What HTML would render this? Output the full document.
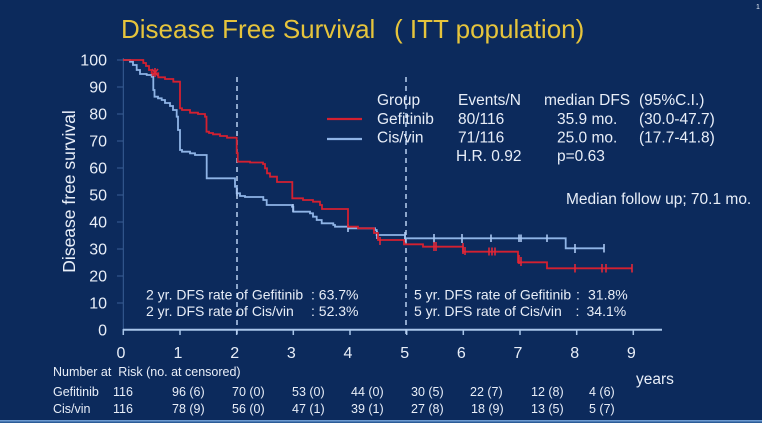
<!DOCTYPE html>
<html>
<head>
<meta charset="utf-8">
<style>
html,body{margin:0;padding:0;background:#0c2a5c;}
svg{display:block;}
text{font-family:"Liberation Sans",Arial,sans-serif;white-space:pre;}
</style>
</head>
<body>
<svg width="762" height="423" viewBox="0 0 762 423" xmlns="http://www.w3.org/2000/svg" xml:space="preserve">
<rect x="0" y="0" width="762" height="423" fill="#0c2a5c"/>
<rect x="0" y="420" width="762" height="1.5" fill="#6d9ad0"/>
<rect x="0" y="421.5" width="762" height="1.5" fill="#2c5c98"/>

<!-- page number -->
<text x="756" y="9" font-size="7" fill="#e8eef8">1</text>

<!-- title -->
<text x="121" y="38" font-size="26" fill="#e6c43c">Disease Free Survival</text>
<text x="394" y="38" font-size="26" fill="#e6c43c">( ITT population)</text>

<!-- y axis -->
<line x1="123.3" y1="58" x2="123.3" y2="330" stroke="#3a5f96" stroke-width="1"/>
<g stroke="#3a5f96" stroke-width="1">
<line x1="117" y1="60" x2="123" y2="60"/>
<line x1="117" y1="87" x2="123" y2="87"/>
<line x1="117" y1="114" x2="123" y2="114"/>
<line x1="117" y1="141" x2="123" y2="141"/>
<line x1="117" y1="168" x2="123" y2="168"/>
<line x1="117" y1="195" x2="123" y2="195"/>
<line x1="117" y1="222" x2="123" y2="222"/>
<line x1="117" y1="249" x2="123" y2="249"/>
<line x1="117" y1="276" x2="123" y2="276"/>
<line x1="117" y1="303" x2="123" y2="303"/>
</g>
<g font-size="16" fill="#e8eef8" text-anchor="end">
<text x="107" y="65.7">100</text>
<text x="107" y="92.7">90</text>
<text x="107" y="119.6">80</text>
<text x="107" y="146.6">70</text>
<text x="107" y="173.6">60</text>
<text x="107" y="200.5">50</text>
<text x="107" y="227.5">40</text>
<text x="107" y="254.5">30</text>
<text x="107" y="281.5">20</text>
<text x="107" y="308.4">10</text>
<text x="107" y="335.4">0</text>
</g>
<text transform="translate(75,191.5) rotate(-90)" font-size="17.5" fill="#e8eef8" text-anchor="middle">Disease free survival</text>

<!-- x axis -->
<line x1="123" y1="329.7" x2="662" y2="329.7" stroke="#a9c6ea" stroke-width="2"/>
<g stroke="#a9c6ea" stroke-width="1.5">
<line x1="123.3" y1="329" x2="123.3" y2="335"/>
<line x1="180" y1="329" x2="180" y2="335"/>
<line x1="236.7" y1="329" x2="236.7" y2="335"/>
<line x1="293.3" y1="329" x2="293.3" y2="335"/>
<line x1="350" y1="329" x2="350" y2="335"/>
<line x1="406.7" y1="329" x2="406.7" y2="335"/>
<line x1="463.3" y1="329" x2="463.3" y2="335"/>
<line x1="520" y1="329" x2="520" y2="335"/>
<line x1="576.7" y1="329" x2="576.7" y2="335"/>
<line x1="633.3" y1="329" x2="633.3" y2="335"/>
</g>
<g font-size="16" fill="#e8eef8" text-anchor="middle">
<text x="121" y="358">0</text>
<text x="178" y="358">1</text>
<text x="234.7" y="358">2</text>
<text x="291.3" y="358">3</text>
<text x="348" y="358">4</text>
<text x="404.7" y="358">5</text>
<text x="461.3" y="358">6</text>
<text x="518" y="358">7</text>
<text x="574.7" y="358">8</text>
<text x="631.3" y="358">9</text>
</g>
<text x="636" y="384" font-size="15.5" fill="#e8eef8">years</text>

<!-- dashed verticals -->
<line x1="237" y1="77" x2="237" y2="334" stroke="#b8cff0" stroke-width="1.5" stroke-dasharray="5,4"/>
<line x1="406" y1="77" x2="406" y2="334" stroke="#b8cff0" stroke-width="1.5" stroke-dasharray="5,4"/>

<!-- blue curve (Cis/vin) -->
<path d="M123,60 H130 V61.7 H133 V65 H136.7 V70 H140 V74 H146.7 V75 H151.7 V76.7 H153.3 V90 H154.5 V96.7 H158 V98.3 H161.7 V100 H165 V103 H170 V106 H173 V110 H176.7 V116.7 H178 V130 H180 V150 H182 V151.7 H190 V153.3 H195 V155 H206.7 V178.3 H235 V186.7 H236.7 V193.3 H240 V196 H245 V197 H263.3 V200 H266.7 V205 H292 V206.7 H293.3 V211.7 H310 V213.3 H313 V216.7 H316.7 V220 H321.7 V223.3 H333.3 V225 H335 V226.7 H348.3 V228.3 H375 V230 H376.7 V235 H405 V238.3 H565.7 V248.3 H604" fill="none" stroke="#8fb4e6" stroke-width="1.8"/>
<g stroke="#a9c6f0" stroke-width="1.6">
<line x1="237" y1="188" x2="237" y2="196"/>
<line x1="293" y1="204" x2="293" y2="212"/>
<line x1="348" y1="224" x2="348" y2="232"/>
<line x1="377" y1="231" x2="377" y2="239"/>
<line x1="405" y1="232" x2="405" y2="242"/>
<line x1="434" y1="234" x2="434" y2="243"/>
<line x1="462" y1="234" x2="462" y2="243"/>
<line x1="491" y1="234.5" x2="491" y2="242"/>
<line x1="519" y1="234.5" x2="519" y2="242"/>
<line x1="521" y1="234.5" x2="521" y2="242"/>
<line x1="547" y1="234.5" x2="547" y2="242"/>
<line x1="575" y1="244" x2="575" y2="253"/>
<line x1="604" y1="244" x2="604" y2="252.5"/>
</g>

<!-- red curve (Gefitinib) -->
<path d="M123,60 H143.3 V63 H146 V66 H149 V70 H151.7 V73.3 H158.3 V77.3 H165 V79 H173.3 V81.7 H180 V108.3 H182 V110 H190 V112.7 H198 V114 H205 V116.7 H206.5 V131.7 H209 V133 H213 V134.3 H220 V136 H227 V137.7 H236.7 V153 H237.7 V161.7 H250 V162.5 H263 V164 H265 V168.3 H267 V173.3 H270 V176.7 H277 V182 H292.3 V198.3 H303 V200 H313 V201.7 H320 V205 H322 V209 H348 V226.7 H358 V228.3 H374 V233 H378 V240 H404 V244.3 H423 V246.7 H463 V251.7 H518 V262.3 H547 V268.3 H632" fill="none" stroke="#d42030" stroke-width="1.8"/>
<g stroke="#e0283a" stroke-width="1.6">
<line x1="152" y1="69" x2="158" y2="76"/>
<line x1="158" y1="69" x2="152" y2="76"/>
<line x1="155" y1="68" x2="155" y2="77"/>
<line x1="380" y1="237" x2="380" y2="245"/>
<line x1="434" y1="242" x2="434" y2="251"/>
<line x1="436" y1="242" x2="436" y2="251"/>
<line x1="463" y1="243" x2="463" y2="254"/>
<line x1="465" y1="247" x2="465" y2="255"/>
<line x1="489" y1="247.5" x2="489" y2="255.5"/>
<line x1="492" y1="247.5" x2="492" y2="255.5"/>
<line x1="495" y1="247.5" x2="495" y2="255.5"/>
<line x1="519" y1="255" x2="519" y2="264"/>
<line x1="521" y1="257" x2="521" y2="266"/>
<line x1="575" y1="264" x2="575" y2="272.5"/>
<line x1="602" y1="264" x2="602" y2="272.5"/>
<line x1="606" y1="264" x2="606" y2="272.5"/>
<line x1="632" y1="264" x2="632" y2="272.5"/>
</g>

<!-- legend -->
<line x1="327" y1="119" x2="362" y2="119" stroke="#d42030" stroke-width="2.2"/>
<line x1="327" y1="139" x2="362" y2="139" stroke="#8fb4e6" stroke-width="2.2"/>
<g font-size="15.5" fill="#e8eef8">
<text x="377" y="105">Group</text>
<text x="458" y="105">Events/N</text>
<text x="544" y="105">median DFS</text>
<text x="639" y="105">(95%C.I.)</text>
<text x="377" y="124">Gefitinib</text>
<text x="458" y="124">80/116</text>
<text x="557" y="124">35.9 mo.</text>
<text x="639" y="124">(30.0-47.7)</text>
<text x="377" y="142.7">Cis/vin</text>
<text x="458" y="142.7">71/116</text>
<text x="557" y="142.7">25.0 mo.</text>
<text x="639" y="142.7">(17.7-41.8)</text>
<text x="456" y="161">H.R. 0.92</text>
<text x="557" y="161">p=0.63</text>
<text x="566" y="204">Median follow up; 70.1 mo.</text>
</g>

<!-- annotations -->
<g font-size="14" fill="#e8eef8">
<text x="146" y="299.3">2 yr. DFS rate of Gefitinib</text>
<text x="311" y="299.3">: 63.7%</text>
<text x="146" y="316">2 yr. DFS rate of Cis/vin</text>
<text x="311" y="316">: 52.3%</text>
<text x="414" y="299.3">5 yr. DFS rate of Gefitinib</text>
<text x="576" y="299.3">:</text>
<text x="588" y="299.3">31.8%</text>
<text x="414" y="316">5 yr. DFS rate of Cis/vin</text>
<text x="575.5" y="316">:</text>
<text x="586.5" y="316">34.1%</text>
</g>

<!-- risk table -->
<g font-size="12.5" fill="#e8eef8">
<text x="53" y="376">Number at  Risk (no. at censored)</text>
<text x="53" y="396">Gefitinib</text>
<text x="113" y="396">116</text>
<text x="172" y="396">96 (6)</text>
<text x="232" y="396">70 (0)</text>
<text x="292" y="396">53 (0)</text>
<text x="351" y="396">44 (0)</text>
<text x="411" y="396">30 (5)</text>
<text x="470" y="396">22 (7)</text>
<text x="531" y="396">12 (8)</text>
<text x="589" y="396">4 (6)</text>
<text x="53" y="413">Cis/vin</text>
<text x="113" y="413">116</text>
<text x="172" y="413">78 (9)</text>
<text x="232" y="413">56 (0)</text>
<text x="292" y="413">47 (1)</text>
<text x="351" y="413">39 (1)</text>
<text x="411" y="413">27 (8)</text>
<text x="471" y="413">18 (9)</text>
<text x="531" y="413">13 (5)</text>
<text x="589" y="413">5 (7)</text>
</g>
</svg>
</body>
</html>
